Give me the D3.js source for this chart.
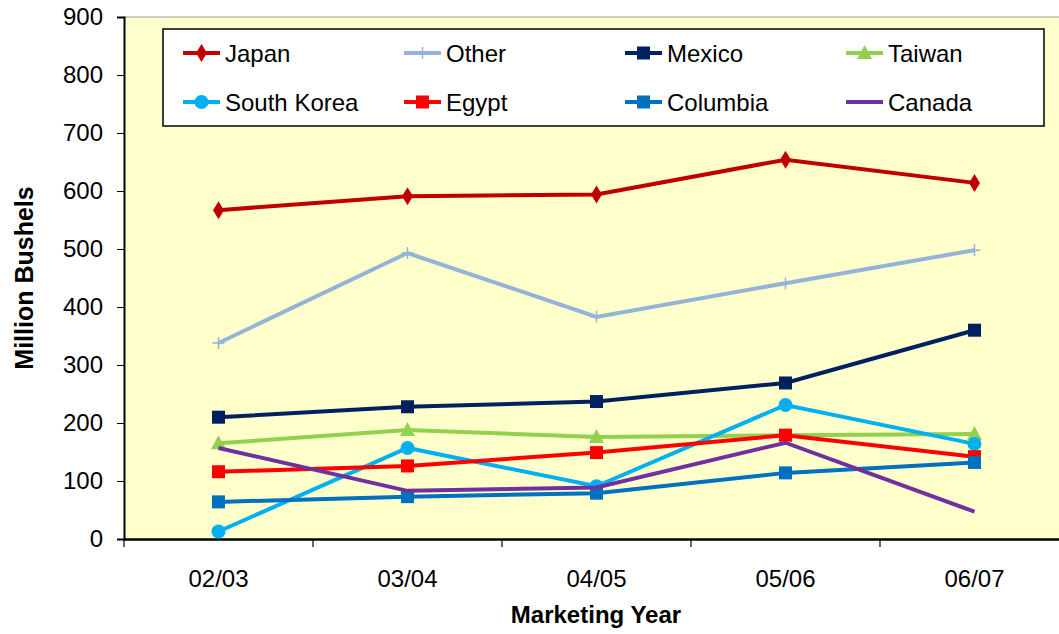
<!DOCTYPE html>
<html>
<head>
<meta charset="utf-8">
<script src="https://cdn.jsdelivr.net/npm/d3@7"></script>
<style>
  body { margin: 0; background: #fff; }
  text { font-family: "Liberation Sans", Arial, sans-serif; }
</style>
</head>
<body>
<div id="chart"></div>
<script>
// data
var years = ["02/03", "03/04", "04/05", "05/06", "06/07"];
var yTicks = [0, 100, 200, 300, 400, 500, 600, 700, 800, 900];

var japan      = [567, 591, 594, 654, 614];
var other      = [338, 493, 383, 441, 498];
var mexico     = [210, 228, 237, 269, 360];
var taiwan     = [165, 188, 176, 179, 181];
var southKorea = [13, 157, 91, 231, 164];
var egypt      = [116, 126, 149, 179, 142];
var columbia   = [64, 73, 79, 114, 132];
var canada     = [157, 83, 89, 166, 47];

var series = [
  {name: "Japan", values: japan, color: "#C00000", marker: "diamond"},
  {name: "Other", values: other, color: "#95B3D7", marker: "plus"},
  {name: "Mexico", values: mexico, color: "#002060", marker: "square"},
  {name: "Taiwan", values: taiwan, color: "#92D050", marker: "triangle"},
  {name: "South Korea", values: southKorea, color: "#00B0F0", marker: "circle"},
  {name: "Egypt", values: egypt, color: "#FF0000", marker: "square"},
  {name: "Columbia", values: columbia, color: "#0070C0", marker: "square"},
  {name: "Canada", values: canada, color: "#7030A0", marker: "none"}
];

var W = 1059, H = 634;
var margin = {top: 17, left: 124, bottom: 95};
var width = 945, height = H - margin.top - margin.bottom;

var svg = d3.select("#chart").append("svg")
    .attr("width", W)
    .attr("height", H);

var g = svg.append("g")
    .attr("transform", "translate(" + margin.left + "," + margin.top + ")");

var x = d3.scaleBand().domain(years).range([0, width]);
var y = d3.scaleLinear().domain([0, 900]).range([height, 0]);

// plot background
g.append("rect")
    .attr("width", width).attr("height", height)
    .attr("fill", "#FFFFCC");
g.append("line")
    .attr("x1", 0).attr("x2", width).attr("y1", 0).attr("y2", 0)
    .attr("stroke", "#999").attr("stroke-width", 1);

// axes
var yAxis = g.append("g")
    .call(d3.axisLeft(y).tickValues(yTicks).tickSize(7).tickPadding(14));
yAxis.select(".domain").attr("stroke", "#000").attr("stroke-width", 2);
yAxis.selectAll(".tick line").attr("stroke", "#000");
yAxis.selectAll("text").style("font-size", "24px").attr("fill", "#000");

var xAxis = g.append("g")
    .attr("transform", "translate(0," + height + ")")
    .call(d3.axisBottom(x).tickSize(0).tickPadding(31));
xAxis.select(".domain").attr("stroke", "#000").attr("stroke-width", 2.5);
xAxis.selectAll("text").style("font-size", "24px").attr("fill", "#000");

// category boundary ticks
g.selectAll(".xtick")
    .data(years.concat(["end"]))
    .enter().append("line")
    .attr("x1", function(d, i) { return i * x.step(); })
    .attr("x2", function(d, i) { return i * x.step(); })
    .attr("y1", height).attr("y2", height + 8)
    .attr("stroke", "#000").attr("stroke-width", 1.2);

// axis titles
svg.append("text")
    .attr("transform", "translate(33," + (margin.top + height / 2) + ") rotate(-90)")
    .attr("text-anchor", "middle")
    .style("font-size", "25px").style("font-weight", "bold")
    .text("Million Bushels");

svg.append("text")
    .attr("x", 596).attr("y", 623)
    .attr("text-anchor", "middle")
    .style("font-size", "24px").style("font-weight", "bold")
    .text("Marketing Year");

// markers
function drawMarker(sel, type, color) {
  if (type === "diamond") {
    sel.append("path").attr("d", "M0,-9L5.5,0L0,9L-5.5,0Z").attr("fill", color);
  } else if (type === "square") {
    sel.append("rect").attr("x", -6.5).attr("y", -6.5).attr("width", 13).attr("height", 13).attr("fill", color);
  } else if (type === "triangle") {
    sel.append("path").attr("d", "M0,-8L7.5,6L-7.5,6Z").attr("fill", color);
  } else if (type === "circle") {
    sel.append("circle").attr("r", 7).attr("fill", color);
  } else if (type === "plus") {
    sel.append("path").attr("d", "M-6,0H6M0,-6V6").attr("stroke", color).attr("stroke-width", 1.5);
  }
}

var line = d3.line()
    .x(function(d, i) { return x(years[i]) + x.bandwidth() / 2; })
    .y(function(d) { return y(d); });

series.forEach(function(s) {
  g.append("path")
    .attr("d", line(s.values))
    .attr("fill", "none")
    .attr("stroke", s.color)
    .attr("stroke-width", 4);
  s.values.forEach(function(v, i) {
    var m = g.append("g")
      .attr("transform", "translate(" + (x(years[i]) + x.bandwidth() / 2) + "," + y(v) + ")");
    drawMarker(m, s.marker, s.color);
  });
});

// legend
var legend = svg.append("g").attr("transform", "translate(163,29)");
legend.append("rect")
    .attr("width", 881).attr("height", 97)
    .attr("fill", "#fff").attr("stroke", "#000").attr("stroke-width", 1.5);

series.forEach(function(s, i) {
  var col = i % 4, row = Math.floor(i / 4);
  var item = legend.append("g")
    .attr("transform", "translate(" + (20 + col * 221) + "," + (24 + row * 49) + ")");
  item.append("line")
    .attr("x1", 0).attr("x2", 37)
    .attr("stroke", s.color).attr("stroke-width", 4);
  var m = item.append("g").attr("transform", "translate(18.5,0)");
  drawMarker(m, s.marker, s.color);
  item.append("text")
    .attr("x", 42).attr("y", 8.5)
    .style("font-size", "24px")
    .text(s.name);
});
</script>
</body>
</html>
